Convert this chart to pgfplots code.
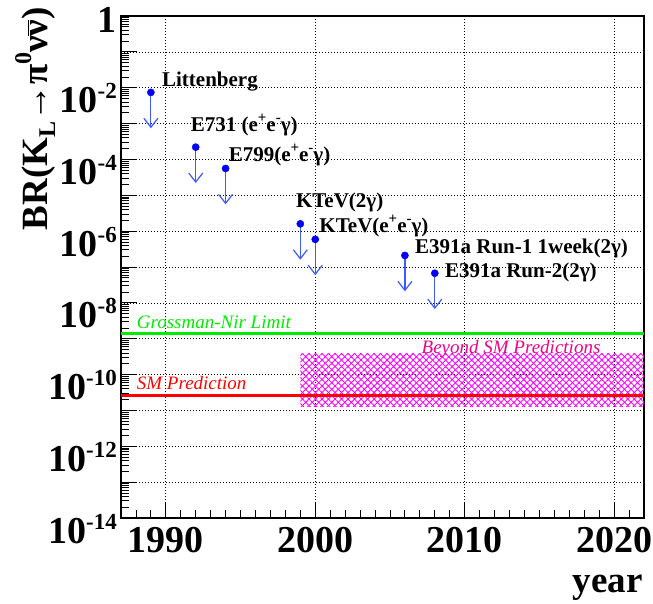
\documentclass[border=0pt]{standalone}
\usepackage{fontspec}
\setmainfont{Liberation Serif}
\usepackage{pgfplots}
\pgfplotsset{compat=1.18}
\usetikzlibrary{arrows.meta,patterns.meta}
\definecolor{arrowblue}{RGB}{60,90,255}
\definecolor{rgreen}{RGB}{0,235,0}
\newcommand\ep[1]{10\raisebox{14pt}{\fontsize{23}{23}\selectfont -#1}}
\newcommand\sups[1]{\raisebox{9pt}{\fontsize{15}{15}\selectfont #1}}
\begin{document}
\begin{tikzpicture}
\path[use as bounding box] (0,0) rectangle (653pt,604pt);
\begin{axis}[
  at={(121pt,86pt)}, anchor=south west, scale only axis,
  width=523pt, height=502pt,
  xmin=1987, xmax=2022, ymode=log, ymin=1e-14, ymax=1,
  xtick={1990,2000,2010,2020}, xticklabels={1990,2000,2010,2020},
  minor xtick={1988,1989,...,2022},
  ytick={1e-14,1e-13,1e-12,1e-11,1e-10,1e-9,1e-8,1e-7,1e-6,1e-5,1e-4,1e-3,1e-2,1e-1,1},
  yticklabels={\ep{14},,\ep{12},,\ep{10},,\ep{8},,\ep{6},,\ep{4},,\ep{2},,\raisebox{8pt}{1}},
  xtick pos=bottom, ytick pos=left, tick align=inside,
  major tick length=16pt, minor tick length=8pt,
  tick style={black, line width=0.8pt},
  axis line style={line width=1.1pt},
  grid=major,
  major grid style={black, line width=0.7pt, dash pattern=on 0.8pt off 2.2pt},
  xticklabel style={font=\fontsize{38}{38}\selectfont\bfseries, inner sep=0pt, anchor=north, yshift=-9pt},
  yticklabel style={font=\fontsize{38}{38}\selectfont\bfseries, inner sep=0pt, anchor=base east, xshift=-4pt, yshift=-25pt},
  clip=true,
]
% hatched band
\addplot[draw=none, pattern={Lines[angle=45,distance=4.6pt,line width=0.9pt]}, pattern color=magenta]
  coordinates {(1999,3.9e-10) (2022,3.9e-10) (2022,1.3e-11) (1999,1.3e-11)} -- cycle;
\addplot[draw=none, pattern={Lines[angle=-45,distance=4.6pt,line width=0.9pt]}, pattern color=magenta]
  coordinates {(1999,3.9e-10) (2022,3.9e-10) (2022,1.3e-11) (1999,1.3e-11)} -- cycle;
% limit lines
\addplot[rgreen, line width=3pt] coordinates {(1987,1.4e-9) (2022,1.4e-9)};
\addplot[red, line width=3pt] coordinates {(1987,2.6e-11) (2022,2.6e-11)};
% upper limits
\addplot[only marks, mark=*, mark size=3.6pt, color=blue,
  error bars/.cd, y dir=minus, y explicit, error mark=none,
  error bar style={color=arrowblue, line width=1.2pt, -{Straight Barb[length=9pt,width=14pt,line width=1.2pt]}}]
  table[x=x, y=y, y error=e] {
  x     y       e
  1989  7.4e-3  6.66e-3
  1992  2.2e-4  1.98e-4
  1994  5.6e-5  5.04e-5
  1999  1.6e-6  1.44e-6
  2000  5.9e-7  5.31e-7
  2006  2.1e-7  1.89e-7
  2008  6.7e-8  6.03e-8
  };
% labels
\begin{scope}[every node/.style={inner sep=0pt, anchor=base west, font=\fontsize{21}{21}\selectfont\bfseries}]
\node at (axis cs:1989.74,1.05e-2) {Littenberg};
\node at (axis cs:1991.66,5.9e-4) {E731 (e\sups{+}e\sups{-}γ)};
\node at (axis cs:1994.2,8.7e-5) {E799(e\sups{+}e\sups{-}γ)};
\node at (axis cs:1998.7,4.5e-6) {KTeV(2γ)};
\node at (axis cs:2000.27,9.3e-7) {KTeV(e\sups{+}e\sups{-}γ)};
\node at (axis cs:2006.67,2.4e-7) {E391a Run-1 1week(2γ)};
\node at (axis cs:2008.67,5.1e-8) {E391a Run-2(2γ)};
\end{scope}
\begin{scope}[every node/.style={inner sep=0pt, anchor=base west, font=\fontsize{19}{19}\selectfont\itshape}]
\node[text=rgreen] at (axis cs:1988.05,1.95e-9) {Grossman-Nir Limit};
\node[text=red] at (axis cs:1988.05,3.9e-11) {SM Prediction};
\node[text=magenta] at (axis cs:2007.11,3.9e-10) {Beyond SM Predictions};
\end{scope}
\end{axis}
\node[inner sep=0pt, anchor=base east, font=\fontsize{37}{37}\selectfont\bfseries] at (643pt,11pt) {year};
\node[inner sep=0pt, anchor=base east, rotate=90, font=\fontsize{37}{37}\selectfont\bfseries] at (47pt,597pt)
  {BR(K\raisebox{-8pt}{\fontsize{24}{24}\selectfont L}→π\raisebox{16pt}{\fontsize{24}{24}\selectfont 0}ν$\overline{\hbox{ν}}$)};
\end{tikzpicture}
\end{document}
